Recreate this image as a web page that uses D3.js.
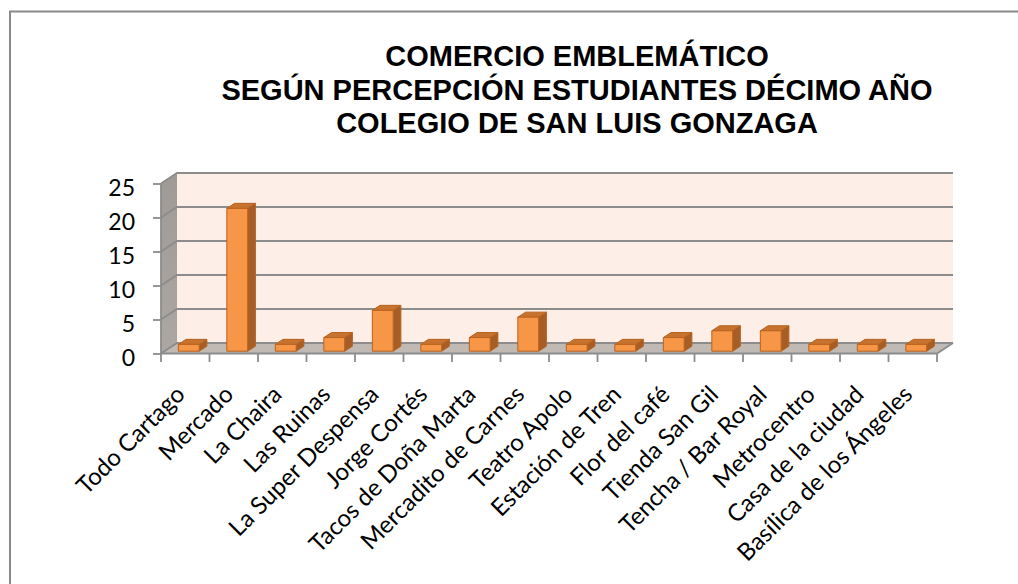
<!DOCTYPE html>
<html><head><meta charset="utf-8">
<script src="https://cdn.jsdelivr.net/npm/d3@7"></script>
<style>html,body{margin:0;padding:0;background:#fff;}svg{display:block;}</style>
</head><body>
<svg id="chart" width="1018" height="584"></svg>
<script>
const categories = ["Todo Cartago","Mercado","La Chaira","Las Ruinas","La Super Despensa","Jorge Cortés","Tacos de Doña Marta","Mercadito de Carnes","Teatro Apolo","Estación de Tren","Flor del café","Tienda San Gil","Tencha / Bar Royal","Metrocentro","Casa de la ciudad","Basílica de los Ángeles"];
const values = [1,21,1,2,6,1,2,5,1,1,2,3,3,1,1,1];
const yTickValues = [0,5,10,15,20,25];
const titleLines = ["COMERCIO EMBLEMÁTICO","SEGÚN PERCEPCIÓN ESTUDIANTES DÉCIMO AÑO","COLEGIO DE SAN LUIS GONZAGA"];

const svg = d3.select("#chart");
const left = 161, right = 937, base = 353.5, ddx = 16, ddy = -10.5;
const x = d3.scaleBand().domain(categories).range([left, right]).padding(0);
const y = d3.scaleLinear().domain([0, 25]).range([base, base - 170]);
const P = (px, v, f) => [px + f * ddx, y(v) + f * ddy];
const poly = pts => pts.map(p => p.join(",")).join(" ");

// outer border
svg.append("rect").attr("x", 10).attr("y", 11.5).attr("width", 1020).attr("height", 600)
  .attr("fill", "#fff").attr("stroke", "#8a8a8a").attr("stroke-width", 2);

// title
svg.append("g").selectAll("text").data(titleLines).join("text")
  .attr("x", 577).attr("y", (d, i) => 66 + i * 33.5)
  .attr("text-anchor", "middle")
  .style("font-family", "'Liberation Sans', Arial, sans-serif")
  .style("font-weight", "bold").style("font-size", "29px").attr("fill", "#000")
  .text(d => d);

const walls = svg.append("g");
// back wall
walls.append("polygon").attr("points", poly([P(left,0,1), P(right,0,1), P(right,25,1), P(left,25,1)]))
  .attr("fill", "#fdeee7");
// side wall
const sideGrad = svg.append("defs").append("linearGradient").attr("id", "sideG")
  .attr("x1", 0).attr("y1", 0).attr("x2", 0).attr("y2", 1);
sideGrad.append("stop").attr("offset", 0).attr("stop-color", "#a09a96");
sideGrad.append("stop").attr("offset", 1).attr("stop-color", "#aca7a3");
walls.append("polygon").attr("points", poly([P(left,0,0), P(left,0,1), P(left,25,1), P(left,25,0)]))
  .attr("fill", "url(#sideG)");
// floor
walls.append("polygon").attr("points", poly([P(left,0,0), P(right,0,0), P(right,0,1), P(left,0,1)]))
  .attr("fill", "#c1b9b4");

// gridlines (back wall + side wall)
const grid = svg.append("g").attr("fill", "none").attr("stroke", "#8c8c8c").attr("stroke-width", 1.8);
yTickValues.forEach(v => {
  grid.append("polyline").attr("points", poly([P(left, v, 0), P(left, v, 1), P(right, v, 1)]));
});
// floor edges and axis
const edges = svg.append("g").attr("fill", "none").attr("stroke", "#8c8c8c").attr("stroke-width", 1.8);
edges.append("polyline").attr("points", poly([P(left,0,0), P(right,0,0), P(right,0,1)]));
edges.append("line").attr("x1", left).attr("x2", left).attr("y1", y(0)).attr("y2", y(25));

// x ticks at band boundaries
const bounds = categories.map(c => x(c)).concat([right]);
edges.selectAll("line.xt").data(bounds).join("line").attr("class", "xt")
  .attr("x1", d => d).attr("x2", d => d).attr("y1", base).attr("y2", base + 8.5);

// y axis
const yAxis = d3.axisLeft(y).tickValues(yTickValues).tickSize(8).tickSizeOuter(0).tickPadding(18);
const ya = svg.append("g").attr("transform", `translate(${left},0)`).call(yAxis);
ya.select(".domain").remove();
ya.selectAll(".tick line").attr("stroke", "#8c8c8c").attr("stroke-width", 1.8);
ya.selectAll(".tick text").attr("fill", "#000").attr("dy", "0.52em")
  .style("font-family", "Lato, sans-serif").style("font-size", "23px");

// bars
const f0 = 0.22, f1 = 0.70, bw = 0.43;
const bars = svg.append("g").attr("stroke", "#b8621f").attr("stroke-width", 1).attr("stroke-linejoin", "round");
categories.forEach((c, i) => {
  const v = values[i];
  const cx = x(c) + x.bandwidth() / 2;
  const xl = cx - x.bandwidth() * bw / 2, xr = cx + x.bandwidth() * bw / 2;
  const g = bars.append("g");
  // right side face
  g.append("polygon").attr("points", poly([P(xr,0,f0), P(xr,0,f1), P(xr,v,f1), P(xr,v,f0)])).attr("fill", "#a65e26");
  // top face
  g.append("polygon").attr("points", poly([P(xl,v,f0), P(xr,v,f0), P(xr,v,f1), P(xl,v,f1)])).attr("fill", "#c7732f");
  // front face
  g.append("polygon").attr("points", poly([P(xl,0,f0), P(xr,0,f0), P(xr,v,f0), P(xl,v,f0)])).attr("fill", "#f79646");
});

// x labels
svg.append("g").selectAll("text").data(categories).join("text")
  .attr("transform", d => `translate(${x(d) + x.bandwidth() / 2 + 1},396) rotate(-45)`)
  .attr("text-anchor", "end")
  .style("font-family", "Lato, sans-serif").style("font-size", "24px").attr("fill", "#000")
  .text(d => d);
</script>
</body></html>
